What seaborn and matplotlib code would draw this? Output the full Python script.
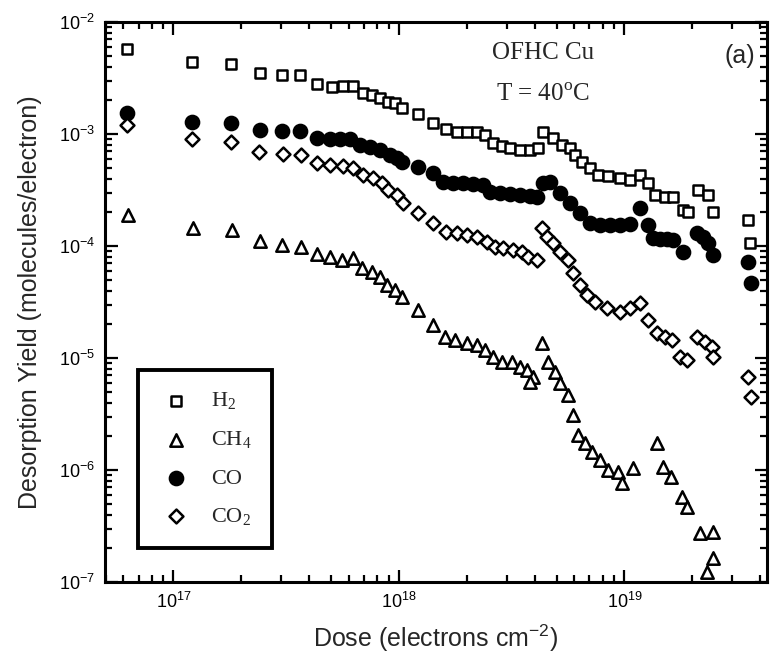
import pandas as pd
import seaborn as sns
import matplotlib
matplotlib.use("Agg")
import matplotlib.pyplot as plt

# Dose (electrons cm^-2) and desorption yield (molecules/electron)
h2_dose = [6.2e16, 1.21e17, 1.80e17, 2.42e17, 3.03e17, 3.64e17, 4.33e17, 5.04e17, 5.65e17, 6.25e17,
           6.92e17, 7.59e17, 8.24e17, 8.94e17, 9.60e17, 1.03e18, 1.21e18, 1.42e18, 1.62e18, 1.81e18,
           2.00e18, 2.22e18, 2.41e18, 2.61e18, 2.86e18, 3.11e18, 3.44e18, 3.81e18, 4.14e18, 4.35e18,
           4.82e18, 5.28e18, 5.73e18, 6.03e18, 6.48e18, 7.03e18, 7.63e18, 8.45e18, 9.55e18, 1.06e19,
           1.17e19, 1.27e19, 1.37e19, 1.51e19, 1.64e19, 1.82e19, 1.91e19, 2.12e19, 2.35e19, 2.47e19,
           3.53e19, 3.60e19]
h2_yield = [5.74e-3, 4.39e-3, 4.22e-3, 3.50e-3, 3.36e-3, 3.36e-3, 2.80e-3, 2.63e-3, 2.68e-3, 2.68e-3,
            2.32e-3, 2.23e-3, 2.10e-3, 1.93e-3, 1.89e-3, 1.71e-3, 1.51e-3, 1.25e-3, 1.11e-3, 1.04e-3,
            1.04e-3, 1.04e-3, 9.80e-4, 8.31e-4, 7.81e-4, 7.50e-4, 7.20e-4, 7.20e-4, 7.50e-4, 1.04e-3,
            9.21e-4, 7.98e-4, 7.50e-4, 6.49e-4, 5.62e-4, 4.97e-4, 4.30e-4, 4.22e-4, 4.05e-4, 3.88e-4,
            4.30e-4, 3.65e-4, 2.85e-4, 2.74e-4, 2.74e-4, 2.10e-4, 2.01e-4, 3.16e-4, 2.85e-4, 2.01e-4,
            1.71e-4, 1.06e-4]

ch4_dose = [6.3e16, 1.22e17, 1.81e17, 2.42e17, 3.03e17, 3.67e17, 4.33e17, 4.94e17, 5.59e17, 6.25e17,
            6.85e17, 7.59e17, 8.24e17, 8.85e17, 9.60e17, 1.03e18, 1.21e18, 1.42e18, 1.60e18, 1.77e18,
            2.00e18, 2.22e18, 2.41e18, 2.61e18, 2.86e18, 3.17e18, 3.44e18, 3.70e18, 3.93e18, 3.81e18,
            4.31e18, 4.58e18, 4.92e18, 5.18e18, 5.62e18, 5.91e18, 6.22e18, 6.68e18, 7.18e18, 7.79e18,
            8.45e18, 9.36e18, 9.75e18, 1.09e19, 1.39e19, 1.48e19, 1.61e19, 1.80e19, 1.89e19, 2.16e19,
            2.47e19, 2.47e19, 2.32e19]
ch4_yield = [1.89e-4, 1.45e-4, 1.39e-4, 1.11e-4, 1.02e-4, 9.80e-5, 8.48e-5, 7.98e-5, 7.50e-5, 7.81e-5,
             6.36e-5, 5.86e-5, 5.29e-5, 4.49e-5, 4.05e-5, 3.50e-5, 2.68e-5, 1.97e-5, 1.54e-5, 1.45e-5,
             1.36e-5, 1.31e-5, 1.18e-5, 1.02e-5, 9.21e-6, 9.21e-6, 8.31e-6, 7.81e-6, 6.77e-6, 6.10e-6,
             1.36e-5, 9.21e-6, 7.50e-6, 5.98e-6, 4.67e-6, 3.10e-6, 2.05e-6, 1.74e-6, 1.45e-6, 1.23e-6,
             1.00e-6, 9.60e-7, 7.65e-7, 1.04e-6, 1.74e-6, 1.06e-6, 8.66e-7, 5.74e-7, 4.67e-7, 2.74e-7,
             2.80e-7, 1.64e-7, 1.23e-7]

co_dose = [6.2e16, 1.21e17, 1.80e17, 2.42e17, 3.03e17, 3.64e17, 4.33e17, 4.94e17, 5.47e17, 6.06e17,
           6.71e17, 7.44e17, 8.24e17, 9.12e17, 9.80e17, 1.03e18, 1.21e18, 1.42e18, 1.57e18, 1.74e18,
           1.92e18, 2.13e18, 2.36e18, 2.53e18, 2.80e18, 3.11e18, 3.44e18, 3.81e18, 4.09e18, 4.35e18,
           4.67e18, 5.18e18, 5.73e18, 6.35e18, 7.03e18, 7.79e18, 8.63e18, 9.55e18, 1.06e19, 1.17e19,
           1.27e19, 1.34e19, 1.44e19, 1.54e19, 1.64e19, 1.82e19, 2.10e19, 2.23e19, 2.35e19, 2.47e19,
           3.53e19, 3.64e19]
co_yield = [1.54e-3, 1.28e-3, 1.25e-3, 1.09e-3, 1.06e-3, 1.06e-3, 9.21e-4, 9.02e-4, 9.02e-4, 9.02e-4,
            7.98e-4, 7.65e-4, 7.20e-4, 6.49e-4, 6.10e-4, 5.62e-4, 5.07e-4, 4.48e-4, 3.73e-4, 3.65e-4,
            3.65e-4, 3.58e-4, 3.50e-4, 3.03e-4, 2.97e-4, 2.91e-4, 2.85e-4, 2.80e-4, 2.74e-4, 3.65e-4,
            3.73e-4, 2.97e-4, 2.42e-4, 1.97e-4, 1.60e-4, 1.54e-4, 1.54e-4, 1.54e-4, 1.57e-4, 2.18e-4,
            1.54e-4, 1.18e-4, 1.15e-4, 1.15e-4, 1.13e-4, 8.84e-5, 1.31e-4, 1.20e-4, 1.06e-4, 8.31e-5,
            7.20e-5, 4.67e-5]

co2_dose = [6.2e16, 1.21e17, 1.80e17, 2.39e17, 3.06e17, 3.67e17, 4.33e17, 4.94e17, 5.65e17, 6.25e17,
            6.92e17, 7.67e17, 8.41e17, 8.94e17, 9.80e17, 1.04e18, 1.21e18, 1.42e18, 1.62e18, 1.81e18,
            2.00e18, 2.22e18, 2.46e18, 2.67e18, 2.89e18, 3.20e18, 3.51e18, 3.73e18, 4.09e18, 4.31e18,
            4.53e18, 4.82e18, 5.18e18, 5.62e18, 5.91e18, 6.35e18, 6.82e18, 7.40e18, 8.37e18, 9.55e18,
            1.06e19, 1.17e19, 1.27e19, 1.39e19, 1.51e19, 1.62e19, 1.76e19, 1.89e19, 2.10e19, 2.28e19,
            2.44e19, 2.47e19, 3.53e19, 3.64e19]
co2_yield = [1.20e-3, 9.02e-4, 8.48e-4, 6.91e-4, 6.63e-4, 6.49e-4, 5.51e-4, 5.29e-4, 5.18e-4, 4.97e-4,
             4.30e-4, 4.05e-4, 3.65e-4, 3.16e-4, 2.85e-4, 2.42e-4, 1.97e-4, 1.60e-4, 1.33e-4, 1.31e-4,
             1.25e-4, 1.20e-4, 1.09e-4, 9.80e-5, 9.60e-5, 9.21e-5, 8.84e-5, 7.98e-5, 7.50e-5, 1.45e-4,
             1.20e-4, 1.06e-4, 8.84e-5, 7.50e-5, 5.74e-5, 4.49e-5, 3.65e-5, 3.16e-5, 2.80e-5, 2.57e-5,
             2.80e-5, 3.10e-5, 2.18e-5, 1.67e-5, 1.54e-5, 1.45e-5, 1.02e-5, 9.60e-6, 1.54e-5, 1.39e-5,
             1.25e-5, 1.02e-5, 6.77e-6, 4.49e-6]

gases = ["H2", "CH4", "CO", "CO2"]
labels = ["H$_\\mathregular{2}$", "CH$_\\mathregular{4}$", "CO", "CO$_\\mathregular{2}$"]

df = pd.concat([
    pd.DataFrame({"gas": "H2", "dose": h2_dose, "yield": h2_yield}),
    pd.DataFrame({"gas": "CH4", "dose": ch4_dose, "yield": ch4_yield}),
    pd.DataFrame({"gas": "CO", "dose": co_dose, "yield": co_yield}),
    pd.DataFrame({"gas": "CO2", "dose": co2_dose, "yield": co2_yield}),
])

marker_style = {
    "H2": dict(marker="s", s=60, facecolor="white"),
    "CH4": dict(marker="^", s=80, facecolor="white"),
    "CO": dict(marker="o", s=90, facecolor="black"),
    "CO2": dict(marker="D", s=50, facecolor="white"),
}

sns.set_theme(style="ticks")
plt.rcParams["font.family"] = ["Liberation Sans", "DejaVu Sans"]

fig = plt.figure(figsize=(7.71, 6.68), dpi=100)
ax = fig.add_axes([105 / 771, 1 - 582 / 668, 662 / 771, 560 / 668])

for gas, lab in zip(gases, labels):
    sub = df[df["gas"] == gas]
    sns.scatterplot(data=sub, x="dose", y="yield", ax=ax, color="black",
                    edgecolor="black", linewidth=1.8, label=lab, legend=False,
                    **marker_style[gas])

ax.set_xscale("log")
ax.set_yscale("log")
ax.set_xlim(4.97e16, 4.29e19)
ax.set_ylim(1e-7, 1e-2)

for sp in ax.spines.values():
    sp.set_linewidth(2.2)
    sp.set_color("black")

ax.tick_params(which="both", direction="in", top=True, right=True, width=1.6, colors="black")
ax.tick_params(which="major", length=9, labelsize=13, pad=7)
ax.tick_params(which="minor", length=5)

ax.set_xlabel("Dose (electrons cm$^{\\mathregular{-2}}$)", fontsize=18, labelpad=8)
ax.set_ylabel("Desorption Yield (molecules/electron)", fontsize=18, labelpad=12)

ax.text(0.662, 0.945, "OFHC Cu", transform=ax.transAxes, ha="center", va="center",
        family="Liberation Serif", fontsize=18)
ax.text(0.662, 0.870, "T = 40$^{\\mathregular{o}}$C", transform=ax.transAxes, ha="center",
        va="center", family="Liberation Serif", fontsize=18)
ax.text(0.959, 0.940, "(a)", transform=ax.transAxes, ha="center", va="center",
        family="Liberation Sans", fontsize=18)

leg = ax.legend(loc="lower left", bbox_to_anchor=(0.05, 0.061), borderaxespad=0,
                frameon=True, fancybox=False, prop={"family": "Liberation Serif", "size": 16},
                labelspacing=0.78, borderpad=0.9, handletextpad=0.8, handlelength=1.6,
                scatterpoints=1)
leg.get_frame().set_edgecolor("black")
leg.get_frame().set_alpha(1)
leg.get_frame().set_linewidth(2.8)

fig.savefig("out.png", dpi=100)
